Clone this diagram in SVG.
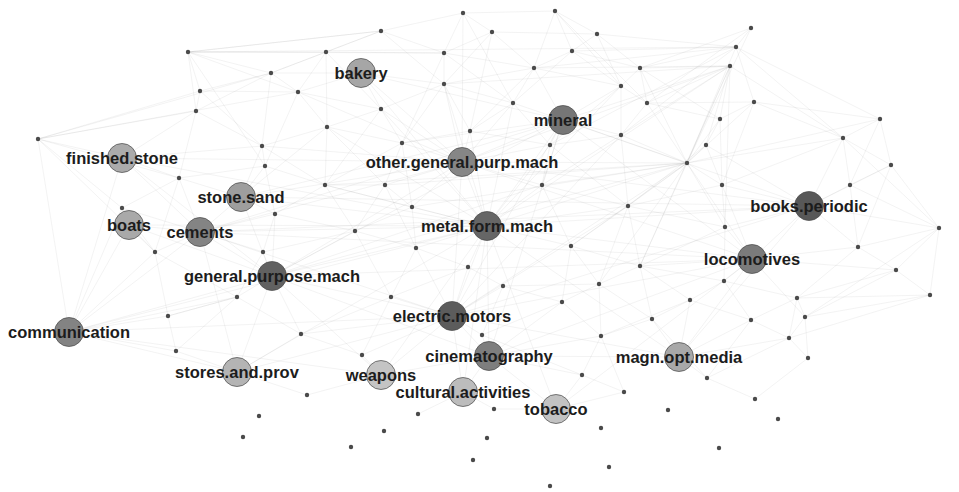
<svg xmlns="http://www.w3.org/2000/svg" width="959" height="492" viewBox="0 0 959 492">
<style>
.e{fill:none;stroke:#8a8a8a;stroke-opacity:0.13;stroke-width:0.8}
.d circle{fill:#4a4a4a}
.n circle{stroke:#4a4a4a;stroke-width:0.9;stroke-opacity:0.8}
.n text{font-family:"Liberation Sans",Arial,sans-serif;font-weight:bold;font-size:16.5px;fill:#1c1c1c;text-anchor:middle}
</style>
<rect width="959" height="492" fill="#ffffff"/>
<g id="connectors">
<path class="e" d="M463 13L444 53M463 13L492 32M463 13L381 31M463 13L513 103M463 13L555 11M463 13L462 162
M555 11L597 34M555 11L572 51M555 11L621 86M555 11L534 68M555 11L647 103
M381 31L326 52M381 31L444 53M381 31L271 73M381 31L444 84M381 31L188 52
M492 32L444 53M492 32L534 68M492 32L470 131M492 32L444 84M492 32L597 34
M597 34L572 51M597 34L640 68M597 34L736 47M597 34L621 86
M751 28L736 47M751 28L640 68M751 28L647 103M751 28L687 163
M736 47L640 68M736 47L572 51M736 47L534 68M736 47L687 163M736 47L621 135M736 47L550 145M736 47L843 138M736 47L754 102M736 47L880 119
M188 52L326 52M188 52L381 31M188 52L271 73M188 52L200 91M188 52L196 111M188 52L736 47M188 52L444 53M188 52L298 92M188 52L265 166
M326 52L444 53M326 52L271 73M326 52L298 92M326 52L381 109M326 52L327 127
M444 53L444 84M444 53L534 68M444 53L513 103M444 53L402 143
M572 51L534 68M572 51L640 68M572 51L621 86M572 51L513 103
M534 68L513 103M534 68L563 120M534 68L470 131M534 68L621 86M534 68L444 84
M640 68L647 103M640 68L621 86M640 68L687 163M640 68L730 66M640 68L720 119
M730 66L720 119M730 66L687 163M730 66L706 145M730 66L647 103M730 66L621 135M730 66L563 120M730 66L843 138M730 66L640 266M730 66L725 227M730 66L534 68M730 66L444 84M730 66L487 226M730 66L462 162
M271 73L298 92M271 73L200 91M271 73L262 146M271 73L361 73M271 73L196 111
M444 84L381 109M444 84L513 103M444 84L470 131M444 84L402 143M444 84L361 73M444 84L462 162M444 84L487 226
M621 86L647 103M621 86L621 135M621 86L563 120M621 86L550 145M621 86L487 226
M200 91L196 111M200 91L298 92M200 91L262 146M200 91L38 139
M298 92L327 127M298 92L361 73M298 92L381 109M298 92L38 139M298 92L265 166M298 92L462 162
M647 103L621 135M647 103L687 163M647 103L720 119M647 103L754 102
M754 102L720 119M754 102L843 138M754 102L880 119M754 102L687 163M754 102L722 185
M513 103L470 131M513 103L563 120M513 103L550 145M513 103L462 162M513 103L487 226
M381 109L402 143M381 109L327 127M381 109L361 73M381 109L462 162M381 109L325 185M381 109L487 226
M196 111L262 146M196 111L38 139M196 111L179 178M196 111L122 158
M720 119L706 145M720 119L687 163M720 119L722 185
M880 119L843 138M880 119L891 165M880 119L850 185M880 119L687 163
M327 127L402 143M327 127L262 146M327 127L325 185M327 127L385 185M327 127L241 197M327 127L487 226
M470 131L462 162M470 131L550 145M470 131L402 143M470 131L487 226
M621 135L550 145M621 135L687 163M621 135L563 120M621 135L628 206M621 135L542 185M621 135L452 316
M38 139L122 158M38 139L69 332M38 139L179 178M38 139L271 73M38 139L122 208M38 139L155 252
M843 138L891 165M843 138L850 185M843 138L809 206M843 138L687 163M843 138L722 185M843 138L939 228
M402 143L462 162M402 143L385 185M402 143L412 207M402 143L325 185M402 143L563 120
M550 145L542 185M550 145L563 120M550 145L462 162M550 145L628 206M550 145L487 226
M706 145L687 163M706 145L722 185M706 145L628 206M706 145L809 206
M262 146L265 166M262 146L241 197M262 146L325 185M262 146L122 158M262 146L462 162
M687 163L722 185M687 163L628 206M687 163L542 185M687 163L725 227M687 163L563 120M687 163L462 162M687 163L487 226M687 163L752 259M687 163L599 284M687 163L571 246M687 163L640 266M687 163L412 207M687 163L385 185M687 163L325 185M687 163L272 276M687 163L452 316
M891 165L850 185M891 165L939 228M891 165L809 206M891 165L858 247
M265 166L241 197M265 166L325 185M265 166L179 178M265 166L275 214
M179 178L122 158M179 178L122 208M179 178L241 197M179 178L155 252M179 178L200 232
M325 185L385 185M325 185L355 231M325 185L275 214M325 185L412 207M325 185L487 226
M385 185L412 207M385 185L462 162M385 185L355 231M385 185L416 248
M542 185L563 120M542 185L487 226M542 185L571 246M542 185L628 206M542 185L462 162M542 185L272 276
M722 185L725 227M722 185L809 206M722 185L752 259M722 185L628 206
M850 185L809 206M850 185L858 247M850 185L939 228
M412 207L487 226M412 207L416 248M412 207L355 231M412 207L462 162
M628 206L640 266M628 206L571 246M628 206L599 284M628 206L725 227M628 206L487 226M628 206L452 316
M122 208L129 225M122 208L155 252M122 208L200 232M122 208L69 332
M275 214L241 197M275 214L355 231M275 214L263 252M275 214L272 276M275 214L200 232
M725 227L752 259M725 227L809 206M725 227L724 281M725 227L640 266
M939 228L858 247M939 228L896 270M939 228L930 295M939 228L809 206M939 228L805 317
M355 231L416 248M355 231L263 252M355 231L391 297M355 231L272 276
M571 246L640 266M571 246L599 284M571 246L562 302M571 246L487 226
M416 248L468 267M416 248L391 297M416 248L487 226M416 248L452 316
M858 247L896 270M858 247L809 206M858 247L752 259M858 247L797 298
M155 252L200 232M155 252L129 225M155 252L168 316M155 252L69 332M155 252L237 297
M263 252L272 276M263 252L200 232M263 252L237 297
M468 267L503 286M468 267L487 226M468 267L452 316M468 267L391 297
M640 266L599 284M640 266L690 300M640 266L652 319M640 266L724 281M640 266L752 259
M896 270L930 295M896 270L805 317M896 270L797 298M896 270L752 259
M724 281L690 300M724 281L752 259M724 281L751 320M724 281L797 298
M503 286L562 302M503 286L482 335M503 286L452 316M503 286L599 284
M599 284L562 302M599 284L652 319M599 284L601 336
M930 295L805 317M930 295L797 298M930 295L789 338
M237 297L272 276M237 297L168 316M237 297L301 334M237 297L69 332
M391 297L452 316M391 297L362 355M391 297L301 334
M690 300L652 319M690 300L751 320M690 300L601 336M690 300L679 357
M797 298L805 317M797 298L751 320M797 298L789 338
M562 302L601 336M562 302L482 335M562 302L489 356
M168 316L69 332M168 316L176 351M168 316L237 297
M652 319L601 336M652 319L679 357M652 319L707 378
M751 320L789 338M751 320L707 378M751 320L679 357
M805 317L789 338M805 317L808 358M805 317L752 259
M301 334L362 355M301 334L237 372M301 334L272 276M301 334L452 316
M482 335L489 356M482 335L452 316M482 335L582 375
M601 336L582 375M601 336L624 392M601 336L489 356
M789 338L808 358M789 338L707 378M789 338L679 357
M176 351L69 332M176 351L237 372M176 351L237 297
M362 355L381 375M362 355L452 316
M808 358L755 399
M582 375L624 392M582 375L556 409M582 375L489 356
M707 378L755 399M707 378L679 357
M624 392L556 409
M307 395L237 372M307 395L381 375
M494 409L463 392M494 409L556 409
M418 414L463 392
M487 226L272 276M487 226L452 316M487 226L462 162M487 226L563 120M487 226L752 259M487 226L809 206M487 226L200 232M487 226L69 332M487 226L241 197M487 226L489 356M487 226L679 357M487 226L361 73M487 226L122 158M487 226L129 225M487 226L381 375M487 226L463 392M487 226L556 409M487 226L237 372
M462 162L563 120M462 162L272 276M462 162L452 316M462 162L241 197M462 162L361 73M462 162L809 206M462 162L752 259M462 162L200 232M462 162L122 158
M452 316L272 276M452 316L489 356M452 316L752 259M452 316L679 357M452 316L200 232M452 316L69 332M452 316L237 372M452 316L381 375M452 316L463 392M452 316L563 120M452 316L809 206
M272 276L200 232M272 276L241 197M272 276L69 332M272 276L129 225M272 276L122 158M272 276L237 372M272 276L563 120M272 276L752 259M272 276L489 356M272 276L381 375
M563 120L361 73M563 120L752 259M563 120L809 206M563 120L241 197M563 120L200 232M563 120L489 356
M752 259L809 206M752 259L679 357M752 259L489 356M752 259L556 409M752 259L200 232
M809 206L679 357M809 206L241 197M809 206L200 232
M200 232L241 197M200 232L129 225M200 232L122 158M200 232L69 332M200 232L237 372
M69 332L129 225M69 332L122 158M69 332L237 372M69 332L381 375
M489 356L463 392M489 356L381 375M489 356L556 409M489 356L679 357"/>
</g>
<g class="d">
<g id="d1"><circle cx="463" cy="13" r="2.2"/></g>
<g id="d2"><circle cx="555" cy="11" r="2.2"/></g>
<g id="d3"><circle cx="381" cy="31" r="2.2"/></g>
<g id="d4"><circle cx="492" cy="32" r="2.2"/></g>
<g id="d5"><circle cx="597" cy="34" r="2.2"/></g>
<g id="d6"><circle cx="751" cy="28" r="2.2"/></g>
<g id="d7"><circle cx="736" cy="47" r="2.2"/></g>
<g id="d8"><circle cx="188" cy="52" r="2.2"/></g>
<g id="d9"><circle cx="326" cy="52" r="2.2"/></g>
<g id="d10"><circle cx="444" cy="53" r="2.2"/></g>
<g id="d11"><circle cx="572" cy="51" r="2.2"/></g>
<g id="d12"><circle cx="534" cy="68" r="2.2"/></g>
<g id="d13"><circle cx="640" cy="68" r="2.2"/></g>
<g id="d14"><circle cx="730" cy="66" r="2.2"/></g>
<g id="d15"><circle cx="271" cy="73" r="2.2"/></g>
<g id="d16"><circle cx="444" cy="84" r="2.2"/></g>
<g id="d17"><circle cx="621" cy="86" r="2.2"/></g>
<g id="d18"><circle cx="200" cy="91" r="2.2"/></g>
<g id="d19"><circle cx="298" cy="92" r="2.2"/></g>
<g id="d20"><circle cx="647" cy="103" r="2.2"/></g>
<g id="d21"><circle cx="754" cy="102" r="2.2"/></g>
<g id="d22"><circle cx="513" cy="103" r="2.2"/></g>
<g id="d23"><circle cx="381" cy="109" r="2.2"/></g>
<g id="d24"><circle cx="196" cy="111" r="2.2"/></g>
<g id="d25"><circle cx="720" cy="119" r="2.2"/></g>
<g id="d26"><circle cx="880" cy="119" r="2.2"/></g>
<g id="d27"><circle cx="327" cy="127" r="2.2"/></g>
<g id="d28"><circle cx="470" cy="131" r="2.2"/></g>
<g id="d29"><circle cx="621" cy="135" r="2.2"/></g>
<g id="d30"><circle cx="38" cy="139" r="2.2"/></g>
<g id="d31"><circle cx="843" cy="138" r="2.2"/></g>
<g id="d32"><circle cx="402" cy="143" r="2.2"/></g>
<g id="d33"><circle cx="550" cy="145" r="2.2"/></g>
<g id="d34"><circle cx="706" cy="145" r="2.2"/></g>
<g id="d35"><circle cx="262" cy="146" r="2.2"/></g>
<g id="d36"><circle cx="687" cy="163" r="2.2"/></g>
<g id="d37"><circle cx="891" cy="165" r="2.2"/></g>
<g id="d38"><circle cx="265" cy="166" r="2.2"/></g>
<g id="d39"><circle cx="179" cy="178" r="2.2"/></g>
<g id="d40"><circle cx="325" cy="185" r="2.2"/></g>
<g id="d41"><circle cx="385" cy="185" r="2.2"/></g>
<g id="d42"><circle cx="542" cy="185" r="2.2"/></g>
<g id="d43"><circle cx="722" cy="185" r="2.2"/></g>
<g id="d44"><circle cx="850" cy="185" r="2.2"/></g>
<g id="d45"><circle cx="412" cy="207" r="2.2"/></g>
<g id="d46"><circle cx="628" cy="206" r="2.2"/></g>
<g id="d47"><circle cx="122" cy="208" r="2.2"/></g>
<g id="d48"><circle cx="275" cy="214" r="2.2"/></g>
<g id="d49"><circle cx="725" cy="227" r="2.2"/></g>
<g id="d50"><circle cx="939" cy="228" r="2.2"/></g>
<g id="d51"><circle cx="355" cy="231" r="2.2"/></g>
<g id="d52"><circle cx="571" cy="246" r="2.2"/></g>
<g id="d53"><circle cx="416" cy="248" r="2.2"/></g>
<g id="d54"><circle cx="858" cy="247" r="2.2"/></g>
<g id="d55"><circle cx="155" cy="252" r="2.2"/></g>
<g id="d56"><circle cx="263" cy="252" r="2.2"/></g>
<g id="d57"><circle cx="468" cy="267" r="2.2"/></g>
<g id="d58"><circle cx="640" cy="266" r="2.2"/></g>
<g id="d59"><circle cx="896" cy="270" r="2.2"/></g>
<g id="d60"><circle cx="724" cy="281" r="2.2"/></g>
<g id="d61"><circle cx="503" cy="286" r="2.2"/></g>
<g id="d62"><circle cx="599" cy="284" r="2.2"/></g>
<g id="d63"><circle cx="930" cy="295" r="2.2"/></g>
<g id="d64"><circle cx="237" cy="297" r="2.2"/></g>
<g id="d65"><circle cx="391" cy="297" r="2.2"/></g>
<g id="d66"><circle cx="690" cy="300" r="2.2"/></g>
<g id="d67"><circle cx="797" cy="298" r="2.2"/></g>
<g id="d68"><circle cx="562" cy="302" r="2.2"/></g>
<g id="d69"><circle cx="168" cy="316" r="2.2"/></g>
<g id="d70"><circle cx="652" cy="319" r="2.2"/></g>
<g id="d71"><circle cx="751" cy="320" r="2.2"/></g>
<g id="d72"><circle cx="805" cy="317" r="2.2"/></g>
<g id="d73"><circle cx="301" cy="334" r="2.2"/></g>
<g id="d74"><circle cx="482" cy="335" r="2.2"/></g>
<g id="d75"><circle cx="601" cy="336" r="2.2"/></g>
<g id="d76"><circle cx="789" cy="338" r="2.2"/></g>
<g id="d77"><circle cx="176" cy="351" r="2.2"/></g>
<g id="d78"><circle cx="362" cy="355" r="2.2"/></g>
<g id="d79"><circle cx="808" cy="358" r="2.2"/></g>
<g id="d80"><circle cx="582" cy="375" r="2.2"/></g>
<g id="d81"><circle cx="707" cy="378" r="2.2"/></g>
<g id="d82"><circle cx="624" cy="392" r="2.2"/></g>
<g id="d83"><circle cx="307" cy="395" r="2.2"/></g>
<g id="d84"><circle cx="755" cy="399" r="2.2"/></g>
<g id="d85"><circle cx="494" cy="409" r="2.2"/></g>
<g id="d86"><circle cx="668" cy="410" r="2.2"/></g>
<g id="d87"><circle cx="418" cy="414" r="2.2"/></g>
<g id="d88"><circle cx="259" cy="416" r="2.2"/></g>
<g id="d89"><circle cx="778" cy="419" r="2.2"/></g>
<g id="d90"><circle cx="384" cy="431" r="2.2"/></g>
<g id="d91"><circle cx="601" cy="428" r="2.2"/></g>
<g id="d92"><circle cx="243" cy="437" r="2.2"/></g>
<g id="d93"><circle cx="487" cy="438" r="2.2"/></g>
<g id="d94"><circle cx="351" cy="447" r="2.2"/></g>
<g id="d95"><circle cx="719" cy="448" r="2.2"/></g>
<g id="d96"><circle cx="609" cy="467" r="2.2"/></g>
<g id="d97"><circle cx="473" cy="460" r="2.2"/></g>
<g id="d98"><circle cx="550" cy="486" r="2.2"/></g>
</g>
<g class="n">
<g id="bakery"><circle cx="361" cy="73" r="14.5" fill="#a6a6a6"/><text x="361" y="79">bakery</text></g>
<g id="mineral"><circle cx="563" cy="120" r="14.5" fill="#767676"/><text x="563" y="126">mineral</text></g>
<g id="finished_stone"><circle cx="122" cy="158" r="14.5" fill="#ababab"/><text x="122" y="164">finished.stone</text></g>
<g id="other_general_purp_mach"><circle cx="462" cy="162" r="14.5" fill="#868686"/><text x="462" y="168">other.general.purp.mach</text></g>
<g id="stone_sand"><circle cx="241" cy="197" r="14.5" fill="#9e9e9e"/><text x="241" y="203">stone.sand</text></g>
<g id="books_periodic"><circle cx="809" cy="206" r="14.5" fill="#585858"/><text x="809" y="212">books.periodic</text></g>
<g id="boats"><circle cx="129" cy="225" r="14.5" fill="#a9a9a9"/><text x="129" y="231">boats</text></g>
<g id="cements"><circle cx="200" cy="232" r="14.5" fill="#848484"/><text x="200" y="238">cements</text></g>
<g id="metal_form_mach"><circle cx="487" cy="226" r="14.5" fill="#666666"/><text x="487" y="232">metal.form.mach</text></g>
<g id="locomotives"><circle cx="752" cy="259" r="14.5" fill="#7b7b7b"/><text x="752" y="265">locomotives</text></g>
<g id="general_purpose_mach"><circle cx="272" cy="276" r="14.5" fill="#616161"/><text x="272" y="282">general.purpose.mach</text></g>
<g id="electric_motors"><circle cx="452" cy="316" r="14.5" fill="#5c5c5c"/><text x="452" y="322">electric.motors</text></g>
<g id="communication"><circle cx="69" cy="332" r="14.5" fill="#838383"/><text x="69" y="338">communication</text></g>
<g id="cinematography"><circle cx="489" cy="356" r="14.5" fill="#7e7e7e"/><text x="489" y="362">cinematography</text></g>
<g id="magn_opt_media"><circle cx="679" cy="357" r="14.5" fill="#a8a8a8"/><text x="679" y="363">magn.opt.media</text></g>
<g id="stores_and_prov"><circle cx="237" cy="372" r="14.5" fill="#b4b4b4"/><text x="237" y="378">stores.and.prov</text></g>
<g id="weapons"><circle cx="381" cy="375" r="14.5" fill="#c4c4c4"/><text x="381" y="381">weapons</text></g>
<g id="cultural_activities"><circle cx="463" cy="392" r="14.5" fill="#bcbcbc"/><text x="463" y="398">cultural.activities</text></g>
<g id="tobacco"><circle cx="556" cy="409" r="14.5" fill="#c2c2c2"/><text x="556" y="415">tobacco</text></g>
</g>
</svg>
